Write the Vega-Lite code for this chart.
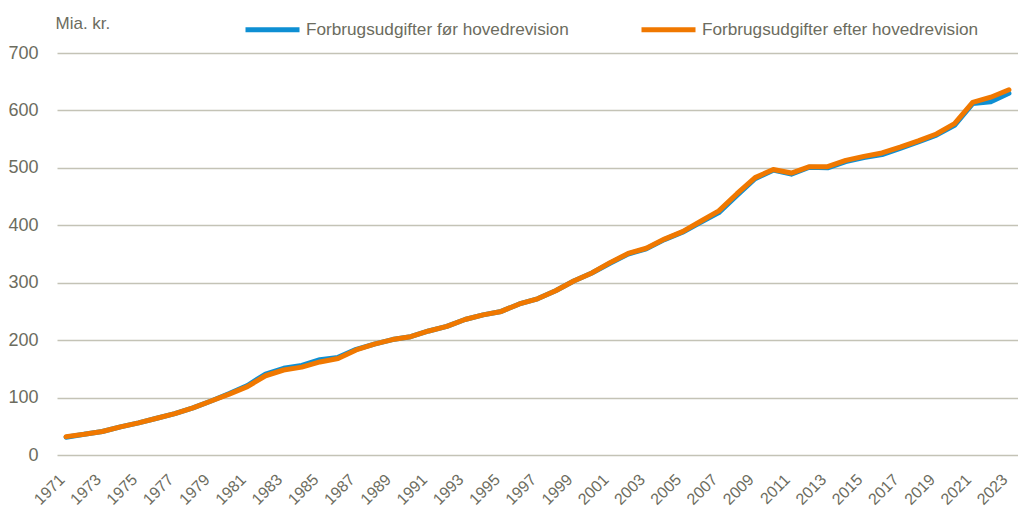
{
  "$schema": "https://vega.github.io/schema/vega-lite/v6.json",
  "width": 961,
  "height": 402,
  "autosize": {"type": "none"},
  "padding": {"left": 57, "top": 53, "right": 0, "bottom": 52},
  "config": {
    "font": "Liberation Sans",
    "view": {"stroke": null},
    "axis": {"labelColor": "#6c6c5e", "titleColor": "#6c6c5e", "labelFont": "Liberation Sans", "titleFont": "Liberation Sans"}
  },
  "datasets": {
    "d": [
      {"year": 1971, "s": "Forbrugsudgifter før hovedrevision", "v": 31},
      {"year": 1972, "s": "Forbrugsudgifter før hovedrevision", "v": 36},
      {"year": 1973, "s": "Forbrugsudgifter før hovedrevision", "v": 41},
      {"year": 1974, "s": "Forbrugsudgifter før hovedrevision", "v": 49},
      {"year": 1975, "s": "Forbrugsudgifter før hovedrevision", "v": 56},
      {"year": 1976, "s": "Forbrugsudgifter før hovedrevision", "v": 64},
      {"year": 1977, "s": "Forbrugsudgifter før hovedrevision", "v": 72},
      {"year": 1978, "s": "Forbrugsudgifter før hovedrevision", "v": 82},
      {"year": 1979, "s": "Forbrugsudgifter før hovedrevision", "v": 94},
      {"year": 1980, "s": "Forbrugsudgifter før hovedrevision", "v": 107},
      {"year": 1981, "s": "Forbrugsudgifter før hovedrevision", "v": 121},
      {"year": 1982, "s": "Forbrugsudgifter før hovedrevision", "v": 141},
      {"year": 1983, "s": "Forbrugsudgifter før hovedrevision", "v": 151},
      {"year": 1984, "s": "Forbrugsudgifter før hovedrevision", "v": 156},
      {"year": 1985, "s": "Forbrugsudgifter før hovedrevision", "v": 166},
      {"year": 1986, "s": "Forbrugsudgifter før hovedrevision", "v": 170},
      {"year": 1987, "s": "Forbrugsudgifter før hovedrevision", "v": 184},
      {"year": 1988, "s": "Forbrugsudgifter før hovedrevision", "v": 193},
      {"year": 1989, "s": "Forbrugsudgifter før hovedrevision", "v": 201},
      {"year": 1990, "s": "Forbrugsudgifter før hovedrevision", "v": 206},
      {"year": 1991, "s": "Forbrugsudgifter før hovedrevision", "v": 216},
      {"year": 1992, "s": "Forbrugsudgifter før hovedrevision", "v": 224},
      {"year": 1993, "s": "Forbrugsudgifter før hovedrevision", "v": 236},
      {"year": 1994, "s": "Forbrugsudgifter før hovedrevision", "v": 244},
      {"year": 1995, "s": "Forbrugsudgifter før hovedrevision", "v": 250},
      {"year": 1996, "s": "Forbrugsudgifter før hovedrevision", "v": 263},
      {"year": 1997, "s": "Forbrugsudgifter før hovedrevision", "v": 272},
      {"year": 1998, "s": "Forbrugsudgifter før hovedrevision", "v": 286},
      {"year": 1999, "s": "Forbrugsudgifter før hovedrevision", "v": 303},
      {"year": 2000, "s": "Forbrugsudgifter før hovedrevision", "v": 317},
      {"year": 2001, "s": "Forbrugsudgifter før hovedrevision", "v": 334},
      {"year": 2002, "s": "Forbrugsudgifter før hovedrevision", "v": 350},
      {"year": 2003, "s": "Forbrugsudgifter før hovedrevision", "v": 359},
      {"year": 2004, "s": "Forbrugsudgifter før hovedrevision", "v": 375},
      {"year": 2005, "s": "Forbrugsudgifter før hovedrevision", "v": 388},
      {"year": 2006, "s": "Forbrugsudgifter før hovedrevision", "v": 405},
      {"year": 2007, "s": "Forbrugsudgifter før hovedrevision", "v": 422},
      {"year": 2008, "s": "Forbrugsudgifter før hovedrevision", "v": 452},
      {"year": 2009, "s": "Forbrugsudgifter før hovedrevision", "v": 481},
      {"year": 2010, "s": "Forbrugsudgifter før hovedrevision", "v": 496},
      {"year": 2011, "s": "Forbrugsudgifter før hovedrevision", "v": 489},
      {"year": 2012, "s": "Forbrugsudgifter før hovedrevision", "v": 501},
      {"year": 2013, "s": "Forbrugsudgifter før hovedrevision", "v": 500},
      {"year": 2014, "s": "Forbrugsudgifter før hovedrevision", "v": 511},
      {"year": 2015, "s": "Forbrugsudgifter før hovedrevision", "v": 518},
      {"year": 2016, "s": "Forbrugsudgifter før hovedrevision", "v": 523},
      {"year": 2017, "s": "Forbrugsudgifter før hovedrevision", "v": 534},
      {"year": 2018, "s": "Forbrugsudgifter før hovedrevision", "v": 545},
      {"year": 2019, "s": "Forbrugsudgifter før hovedrevision", "v": 557},
      {"year": 2020, "s": "Forbrugsudgifter før hovedrevision", "v": 574},
      {"year": 2021, "s": "Forbrugsudgifter før hovedrevision", "v": 612},
      {"year": 2022, "s": "Forbrugsudgifter før hovedrevision", "v": 615},
      {"year": 2023, "s": "Forbrugsudgifter før hovedrevision", "v": 630},
      {"year": 1971, "s": "Forbrugsudgifter efter hovedrevision", "v": 32},
      {"year": 1972, "s": "Forbrugsudgifter efter hovedrevision", "v": 36},
      {"year": 1973, "s": "Forbrugsudgifter efter hovedrevision", "v": 41},
      {"year": 1974, "s": "Forbrugsudgifter efter hovedrevision", "v": 49},
      {"year": 1975, "s": "Forbrugsudgifter efter hovedrevision", "v": 56},
      {"year": 1976, "s": "Forbrugsudgifter efter hovedrevision", "v": 64},
      {"year": 1977, "s": "Forbrugsudgifter efter hovedrevision", "v": 72},
      {"year": 1978, "s": "Forbrugsudgifter efter hovedrevision", "v": 82},
      {"year": 1979, "s": "Forbrugsudgifter efter hovedrevision", "v": 94},
      {"year": 1980, "s": "Forbrugsudgifter efter hovedrevision", "v": 106},
      {"year": 1981, "s": "Forbrugsudgifter efter hovedrevision", "v": 119},
      {"year": 1982, "s": "Forbrugsudgifter efter hovedrevision", "v": 138},
      {"year": 1983, "s": "Forbrugsudgifter efter hovedrevision", "v": 148},
      {"year": 1984, "s": "Forbrugsudgifter efter hovedrevision", "v": 153},
      {"year": 1985, "s": "Forbrugsudgifter efter hovedrevision", "v": 162},
      {"year": 1986, "s": "Forbrugsudgifter efter hovedrevision", "v": 168},
      {"year": 1987, "s": "Forbrugsudgifter efter hovedrevision", "v": 183},
      {"year": 1988, "s": "Forbrugsudgifter efter hovedrevision", "v": 193},
      {"year": 1989, "s": "Forbrugsudgifter efter hovedrevision", "v": 201},
      {"year": 1990, "s": "Forbrugsudgifter efter hovedrevision", "v": 206},
      {"year": 1991, "s": "Forbrugsudgifter efter hovedrevision", "v": 216},
      {"year": 1992, "s": "Forbrugsudgifter efter hovedrevision", "v": 224},
      {"year": 1993, "s": "Forbrugsudgifter efter hovedrevision", "v": 236},
      {"year": 1994, "s": "Forbrugsudgifter efter hovedrevision", "v": 244},
      {"year": 1995, "s": "Forbrugsudgifter efter hovedrevision", "v": 250},
      {"year": 1996, "s": "Forbrugsudgifter efter hovedrevision", "v": 263},
      {"year": 1997, "s": "Forbrugsudgifter efter hovedrevision", "v": 272},
      {"year": 1998, "s": "Forbrugsudgifter efter hovedrevision", "v": 286},
      {"year": 1999, "s": "Forbrugsudgifter efter hovedrevision", "v": 303},
      {"year": 2000, "s": "Forbrugsudgifter efter hovedrevision", "v": 317},
      {"year": 2001, "s": "Forbrugsudgifter efter hovedrevision", "v": 335},
      {"year": 2002, "s": "Forbrugsudgifter efter hovedrevision", "v": 351},
      {"year": 2003, "s": "Forbrugsudgifter efter hovedrevision", "v": 360},
      {"year": 2004, "s": "Forbrugsudgifter efter hovedrevision", "v": 376},
      {"year": 2005, "s": "Forbrugsudgifter efter hovedrevision", "v": 389},
      {"year": 2006, "s": "Forbrugsudgifter efter hovedrevision", "v": 407},
      {"year": 2007, "s": "Forbrugsudgifter efter hovedrevision", "v": 425},
      {"year": 2008, "s": "Forbrugsudgifter efter hovedrevision", "v": 455},
      {"year": 2009, "s": "Forbrugsudgifter efter hovedrevision", "v": 483},
      {"year": 2010, "s": "Forbrugsudgifter efter hovedrevision", "v": 497},
      {"year": 2011, "s": "Forbrugsudgifter efter hovedrevision", "v": 491},
      {"year": 2012, "s": "Forbrugsudgifter efter hovedrevision", "v": 502},
      {"year": 2013, "s": "Forbrugsudgifter efter hovedrevision", "v": 502},
      {"year": 2014, "s": "Forbrugsudgifter efter hovedrevision", "v": 513},
      {"year": 2015, "s": "Forbrugsudgifter efter hovedrevision", "v": 520},
      {"year": 2016, "s": "Forbrugsudgifter efter hovedrevision", "v": 526},
      {"year": 2017, "s": "Forbrugsudgifter efter hovedrevision", "v": 536},
      {"year": 2018, "s": "Forbrugsudgifter efter hovedrevision", "v": 547},
      {"year": 2019, "s": "Forbrugsudgifter efter hovedrevision", "v": 559},
      {"year": 2020, "s": "Forbrugsudgifter efter hovedrevision", "v": 577},
      {"year": 2021, "s": "Forbrugsudgifter efter hovedrevision", "v": 614},
      {"year": 2022, "s": "Forbrugsudgifter efter hovedrevision", "v": 623},
      {"year": 2023, "s": "Forbrugsudgifter efter hovedrevision", "v": 636}
    ]
  },
  "data": {"name": "d"},
  "encoding": {
    "x": {
      "field": "year",
      "type": "ordinal",
      "sort": "ascending",
      "scale": {"type": "point", "padding": 0.5},
      "axis": {
        "title": null,
        "values": [1971,1973,1975,1977,1979,1981,1983,1985,1987,1989,1991,1993,1995,1997,1999,2001,2003,2005,2007,2009,2011,2013,2015,2017,2019,2021,2023],
        "labelAngle": -45,
        "labelFontSize": 16,
        "labelPadding": 16,
        "labelOffset": -10,
        "labelBound": false,
        "labelFlush": false,
        "domain": false,
        "ticks": false,
        "grid": false
      }
    },
    "y": {
      "field": "v",
      "type": "quantitative",
      "scale": {"domain": [0, 700], "nice": false},
      "axis": {
        "title": "Mia. kr.",
        "titleAngle": 0,
        "titleAlign": "left",
        "titleBaseline": "alphabetic",
        "titleX": -2,
        "titleY": -25,
        "titleFontSize": 17,
        "titleFontWeight": "normal",
        "values": [0,100,200,300,400,500,600,700],
        "labelFontSize": 18,
        "labelPadding": 19,
        "domain": false,
        "ticks": false,
        "grid": true,
        "gridColor": "#c4c3b6",
        "gridWidth": 1.5
      }
    },
    "color": {
      "field": "s",
      "type": "nominal",
      "scale": {
        "domain": ["Forbrugsudgifter før hovedrevision", "Forbrugsudgifter efter hovedrevision"],
        "range": ["#0e8fd3", "#f07800"]
      },
      "legend": {
        "title": null,
        "orient": "none",
        "direction": "horizontal",
        "legendX": 186,
        "legendY": -53,
        "padding": 0,
        "symbolType": "stroke",
        "symbolSize": 2916,
        "symbolStrokeWidth": 5,
        "labelFontSize": 17.2,
        "labelColor": "#6c6c5e",
        "labelOffset": 4,
        "labelLimit": 400,
        "columnPadding": 62
      }
    }
  },
  "layer": [
    {"transform": [{"filter": "datum.s === 'Forbrugsudgifter før hovedrevision'"}], "mark": {"type": "line", "strokeWidth": 5, "strokeCap": "round", "strokeJoin": "round"}},
    {"transform": [{"filter": "datum.s === 'Forbrugsudgifter efter hovedrevision'"}], "mark": {"type": "line", "strokeWidth": 5, "strokeCap": "round", "strokeJoin": "round"}}
  ]
}
